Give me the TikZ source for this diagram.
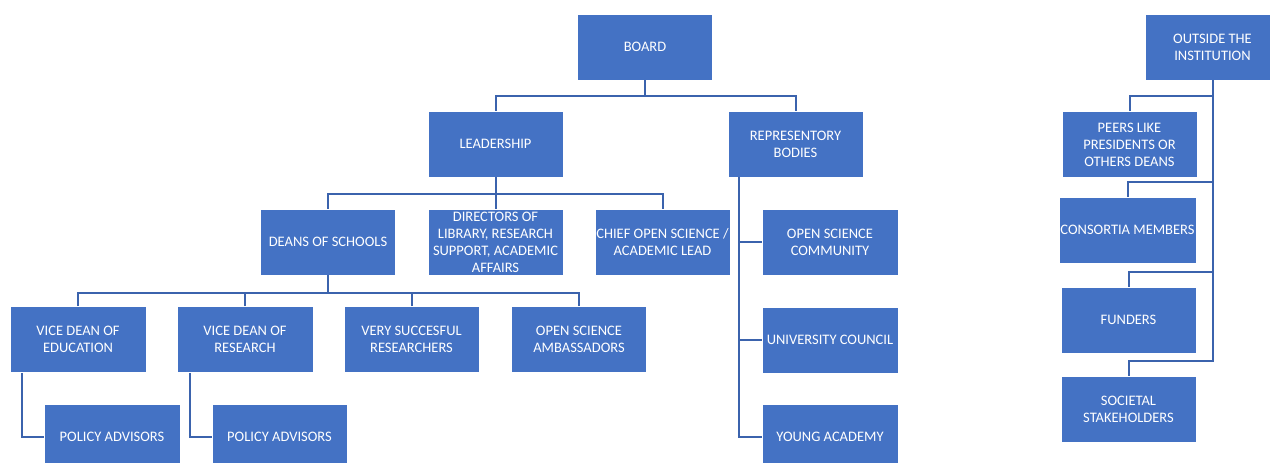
\documentclass[tikz,border=0pt]{standalone}
\usepackage{fontspec}
\setmainfont{Carlito}
\usepackage{xcolor}
\definecolor{boxblue}{HTML}{4472C4}
\definecolor{lineblue}{HTML}{3B63AD}
\usepackage{tikz}

\begin{document}
\begin{tikzpicture}[x=1pt, y=-1pt,
	unit/.style={rectangle, fill=boxblue, draw=white, line width=0.6pt, text=white,
		align=center, inner sep=0pt, minimum width=135pt, minimum height=66pt,
		font=\fontsize{14.5}{17}\selectfont},
	link/.style={lineblue, line width=2pt}]
	
	\useasboundingbox (0, 0) rectangle (1270, 463);
	\clip (0, 0) rectangle (1270, 463);
	
	% top of the institution
	\node[unit] (board) at (645, 47) {BOARD};
	\node[unit] (lead) at (495.5, 144) {LEADERSHIP};
	\node[unit] (rep) at (795.5, 144) {REPRESENTORY\\BODIES};
	
	\node[unit] (deans) at (328, 242) {DEANS OF SCHOOLS};
	\node[unit] (dirs) at (495.5, 242) {DIRECTORS OF\\LIBRARY, RESEARCH\\SUPPORT, ACADEMIC\\AFFAIRS};
	\node[unit] (chief) at (662.5, 242) {CHIEF OPEN SCIENCE /\\ACADEMIC LEAD};
	
	\node[unit, minimum width=136pt] (vde) at (78, 339.5) {VICE DEAN OF\\EDUCATION};
	\node[unit, minimum width=136pt] (vdr) at (245, 339.5) {VICE DEAN OF\\RESEARCH};
	\node[unit] (vsr) at (411.5, 339.5) {VERY SUCCESFUL\\RESEARCHERS};
	\node[unit] (osa) at (579, 339.5) {OPEN SCIENCE\\AMBASSADORS};
	
	\node[unit, minimum width=136pt] (pa1) at (112, 437) {POLICY ADVISORS};
	\node[unit] (pa2) at (279.5, 437) {POLICY ADVISORS};
	
	% representory bodies
	\node[unit, minimum width=136pt] (osc) at (830, 242) {OPEN SCIENCE\\COMMUNITY};
	\node[unit, minimum width=136pt] (uc) at (830, 340) {UNIVERSITY COUNCIL};
	\node[unit, minimum width=136pt] (ya) at (830, 437) {YOUNG ACADEMY};
	
	% outside
	\node[unit] (outside) at (1212.5, 47) {OUTSIDE THE\\INSTITUTION};
	\node[unit] (peers) at (1129.5, 144.5) {PEERS LIKE\\PRESIDENTS OR\\OTHERS DEANS};
	\node[unit, minimum width=137pt] (cons) at (1127.5, 230) {CONSORTIA MEMBERS};
	\node[unit] (fund) at (1128.5, 320) {FUNDERS};
	\node[unit] (soc) at (1128.5, 409) {SOCIETAL\\STAKEHOLDERS};
	
	% connectors
	\foreach \n in {lead, rep} {
		\draw[link] (\n.north) -- ++(0, -15) -| (board.south);
	}
	\foreach \n in {deans, dirs, chief} {
		\draw[link] (\n.north) -- ++(0, -15) -| (lead.south);
	}
	\foreach \n in {vde, vdr, vsr, osa} {
		\draw[link] (\n.north) -- ++(0, -13) -| (deans.south);
	}
	\draw[link] ([xshift=12pt]vde.south west) |- (pa1.west);
	\draw[link] ([xshift=13pt]vdr.south west) |- (pa2.west);
	
	\coordinate (trunk) at ([xshift=11pt]rep.south west);
	\draw[link] (trunk) |- (ya.west);
	\foreach \n in {osc, uc} {
		\draw[link] (trunk |- \n.west) -- (\n.west);
	}
	
	\foreach \n in {peers, cons, fund, soc} {
		\draw[link] (\n.north) -- ++(0, -15) -| (outside.south);
	}
\end{tikzpicture}
\end{document}
